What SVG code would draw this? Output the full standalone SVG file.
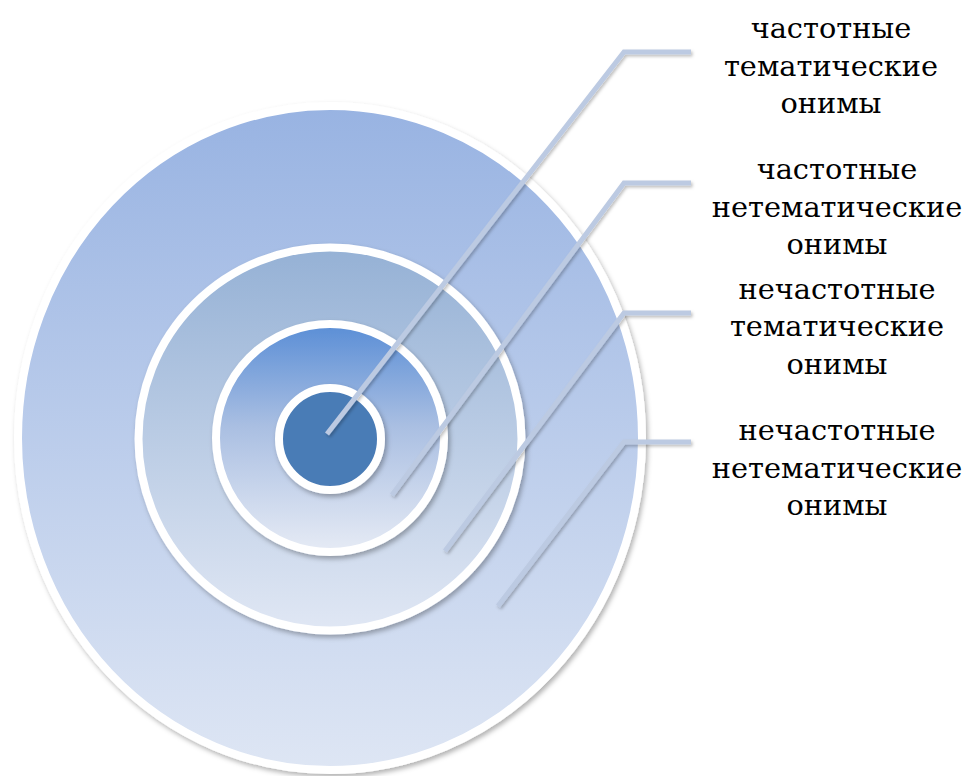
<svg xmlns="http://www.w3.org/2000/svg" width="966" height="776" viewBox="0 0 966 776">
  <defs>
    <linearGradient id="gOuter" x1="0" y1="0" x2="0" y2="1">
      <stop offset="0" stop-color="#98b3e2"/>
      <stop offset="1" stop-color="#dee6f4"/>
    </linearGradient>
    <linearGradient id="gRing3" x1="0" y1="0" x2="0" y2="1">
      <stop offset="0" stop-color="#95b1d5"/>
      <stop offset="1" stop-color="#e0e7f4"/>
    </linearGradient>
    <linearGradient id="gRing2" x1="0" y1="0" x2="0" y2="1">
      <stop offset="0" stop-color="#5a8ed6"/>
      <stop offset="0.45" stop-color="#aabfe2"/>
      <stop offset="1" stop-color="#e6ebf5"/>
    </linearGradient>
    <filter id="shadow" x="-10%" y="-10%" width="130%" height="130%">
      <feDropShadow dx="2" dy="3" stdDeviation="2.5" flood-color="#000" flood-opacity="0.3"/>
    </filter>
    <filter id="lshadow" x="-10%" y="-10%" width="130%" height="130%">
      <feDropShadow dx="1.5" dy="2" stdDeviation="1.5" flood-color="#000" flood-opacity="0.25"/>
    </filter>
  </defs>
  <style>
    .ring { stroke: #ffffff; stroke-width: 8; filter: url(#shadow); }
    .conn { fill: none; stroke: #bccae2; stroke-width: 5; stroke-linejoin: miter; filter: url(#lshadow); }
    .lbl { font-family: 'DejaVu Serif', serif; font-size: 28.8px; fill: #000; text-anchor: middle; }
  </style>
  <rect width="966" height="776" fill="#ffffff"/>
  <g id="node-outer">
    <ellipse class="ring" cx="330" cy="438" rx="312" ry="332" fill="url(#gOuter)"/>
  </g>
  <g id="node-ring3">
    <circle class="ring" cx="330" cy="439" r="191.5" stroke-width="7" fill="url(#gRing3)"/>
  </g>
  <g id="node-ring2">
    <circle class="ring" cx="330" cy="438" r="114" fill="url(#gRing2)"/>
  </g>
  <g id="node-core">
    <circle class="ring" cx="330" cy="439" r="51" fill="#4a7bb6"/>
  </g>
  <g id="connectors">
    <polyline class="conn" points="327,434 624,52 691,52"/>
    <polyline class="conn" points="392,495 624,183 691,183"/>
    <polyline class="conn" points="445,551 624,313 691,313"/>
    <polyline class="conn" points="498,606 624,442 691,442"/>
  </g>
  <g id="label-1">
    <text class="lbl" x="831" y="38">частотные</text>
    <text class="lbl" x="831" y="76">тематические</text>
    <text class="lbl" x="831" y="113">онимы</text>
  </g>
  <g id="label-2">
    <text class="lbl" x="837" y="179">частотные</text>
    <text class="lbl" x="837" y="217">нетематические</text>
    <text class="lbl" x="837" y="254">онимы</text>
  </g>
  <g id="label-3">
    <text class="lbl" x="837" y="299">нечастотные</text>
    <text class="lbl" x="837" y="336">тематические</text>
    <text class="lbl" x="837" y="374">онимы</text>
  </g>
  <g id="label-4">
    <text class="lbl" x="837" y="440">нечастотные</text>
    <text class="lbl" x="837" y="478">нетематические</text>
    <text class="lbl" x="837" y="515">онимы</text>
  </g>
</svg>
